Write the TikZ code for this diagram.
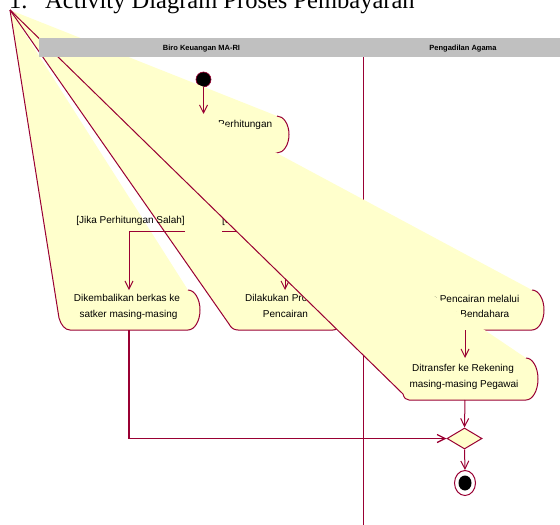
\documentclass[tikz,border=0pt]{standalone}
\usepackage{fontspec}
\setmainfont{Liberation Sans}
\newfontfamily\titleserif{Liberation Serif}
\usetikzlibrary{arrows.meta,shapes.geometric}

\definecolor{rosered}{RGB}{153,0,51}
\definecolor{actyellow}{RGB}{255,255,204}
\definecolor{headgrey}{RGB}{192,192,192}

\tikzset{
  wire/.style={draw=rosered, line width=1pt},
  flow/.style={wire, -{Straight Barb[length=8pt,width=8pt]}},
  actbody/.style={fill=actyellow, draw=rosered, line width=1pt, line join=round},
  lbl/.style={inner sep=0pt, text=black, font=\fontsize{10}{12}\selectfont},
  lanehead/.style={inner sep=0pt, text=black, font=\bfseries\fontsize{7.5}{9}\selectfont},
  titletext/.style={inner sep=0pt, text=black, font=\titleserif\fontsize{24.5}{28}\selectfont},
  startdot/.style={circle, fill=black, draw=rosered, line width=0.6pt, minimum size=15pt, inner sep=0pt},
}

\begin{document}
\begin{tikzpicture}[x=1pt,y=-1pt]
\useasboundingbox (0,0) rectangle (560,525);
\clip (0,0) rectangle (560,525);

\coordinate (apex) at (10,10);

% heading
\node[titletext, anchor=base west] (titlenum) at (9,8) {1.};
\node[titletext, anchor=base west] (titlemain) at (45,8) {Activity Diagram Proses Pembayaran};

% swimlane divider
\coordinate (laneTop) at (363,57);
\coordinate (laneBot) at (363,525);
\draw[wire] (laneTop) -- (laneBot);

% initial state
\node[startdot] (start) at (203.5,79.5) {};

% activity: perhitungan
\path[actbody] (277,116) .. controls (283.6,116) and (289,124.3) .. (289,134.5)
  .. controls (289,144.7) and (283.6,153) .. (277,153) -- (130,153)
  .. controls (124,153) and (120,150) .. (118,145) -- (apex);
\node[lbl, anchor=base west] (actHitung) at (218,127) {Perhitungan};
\coordinate (d0top) at (203.5,114);
\draw[flow] (start) -- (d0top);

% activity: berkas dikembalikan
\path[actbody] (188,290) .. controls (194.6,290) and (200,299) .. (200,310)
  .. controls (200,321) and (194.6,330) .. (188,330) -- (70,330)
  .. controls (65,330) and (61,325) .. (59,318) -- (apex);
\node[lbl, anchor=base] (actKembaliA) at (127,301) {Dikembalikan berkas ke};
\node[lbl, anchor=base] (actKembaliB) at (128.5,317.5) {satker masing-masing};

% activity: proses pencairan
\path[actbody] (333,290) .. controls (339.6,290) and (345,299) .. (345,310)
  .. controls (345,321) and (339.6,330) .. (333,330) -- (238,330)
  .. controls (234,330) and (231,328) .. (229,324) -- (apex);
\node[lbl, anchor=base] (actCairA) at (284,301) {Dilakukan Proses};
\node[lbl, anchor=base] (actCairB) at (285.5,317.5) {Pencairan};

% guarded branches
\coordinate (forkL) at (185,231);
\coordinate (forkR) at (222,231);
\coordinate (d1top) at (129,290);
\coordinate (d2top) at (285,290);
\node[lbl, anchor=base east] (guardSalah) at (185,223) {[Jika Perhitungan Salah]};
\node[lbl, anchor=base west] (guardOther) at (222,223) {[S};
\draw[flow] (forkL) -| (d1top);
\draw[flow] (forkR) -| (d2top);

% activity: pencairan melalui bendahara
\path[actbody] (532,290) .. controls (538.6,290) and (544,299) .. (544,310)
  .. controls (544,321) and (538.6,330) .. (532,330) -- (400,330)
  .. controls (395,330) and (392,327) .. (390,322) -- (apex);
\node[lbl, anchor=base east] (actBendA) at (519.5,302) {Proses Pencairan melalui};
\node[lbl, anchor=base east] (actBendB) at (509.5,317) {Rekening Bendahara};

% activity: transfer ke rekening pegawai
\path[actbody] (526,358) .. controls (532.6,358) and (538,367.4) .. (538,379)
  .. controls (538,390.6) and (532.6,400) .. (526,400) -- (409,400)
  .. controls (406,400) and (404,398) .. (403,394) -- (apex);
\node[lbl, anchor=base] (actTransA) at (463,371) {Ditransfer ke Rekening};
\node[lbl, anchor=base] (actTransB) at (464,387) {masing-masing Pegawai};

% merge and final state
\node[diamond, draw=rosered, fill=actyellow, line width=1pt, minimum width=35pt,
      minimum height=21pt, inner sep=0pt] (merge) at (464.5,438.5) {};
\node[ellipse, draw=rosered, fill=white, line width=1pt, minimum width=21pt,
      minimum height=25pt, inner sep=0pt] (final) at (465,483) {};
\node[ellipse, fill=black, minimum width=13pt, minimum height=15pt, inner sep=0pt]
      (finaldot) at (final.center) {};

\coordinate (d1bot) at (129,330);
\coordinate (d3bot) at (465,330);
\coordinate (d4top) at (465,358);
\coordinate (d4bot) at (465,400);
\draw[flow] (d3bot) -- (d4top);
\draw[flow] (d4bot) -- (merge.north);
\draw[flow, line width=1.3pt] (d1bot) |- (merge.west);
\draw[flow] (merge.south) -- (final.north);

% swimlane headers
\path[fill=headgrey] (39,38) rectangle (561,57);
\node[lanehead, anchor=base] (laneBiro) at (201.5,50.5) {Biro Keuangan MA-RI};
\node[lanehead, anchor=base] (lanePA) at (463,50.5) {Pengadilan Agama};
\end{tikzpicture}
\end{document}
